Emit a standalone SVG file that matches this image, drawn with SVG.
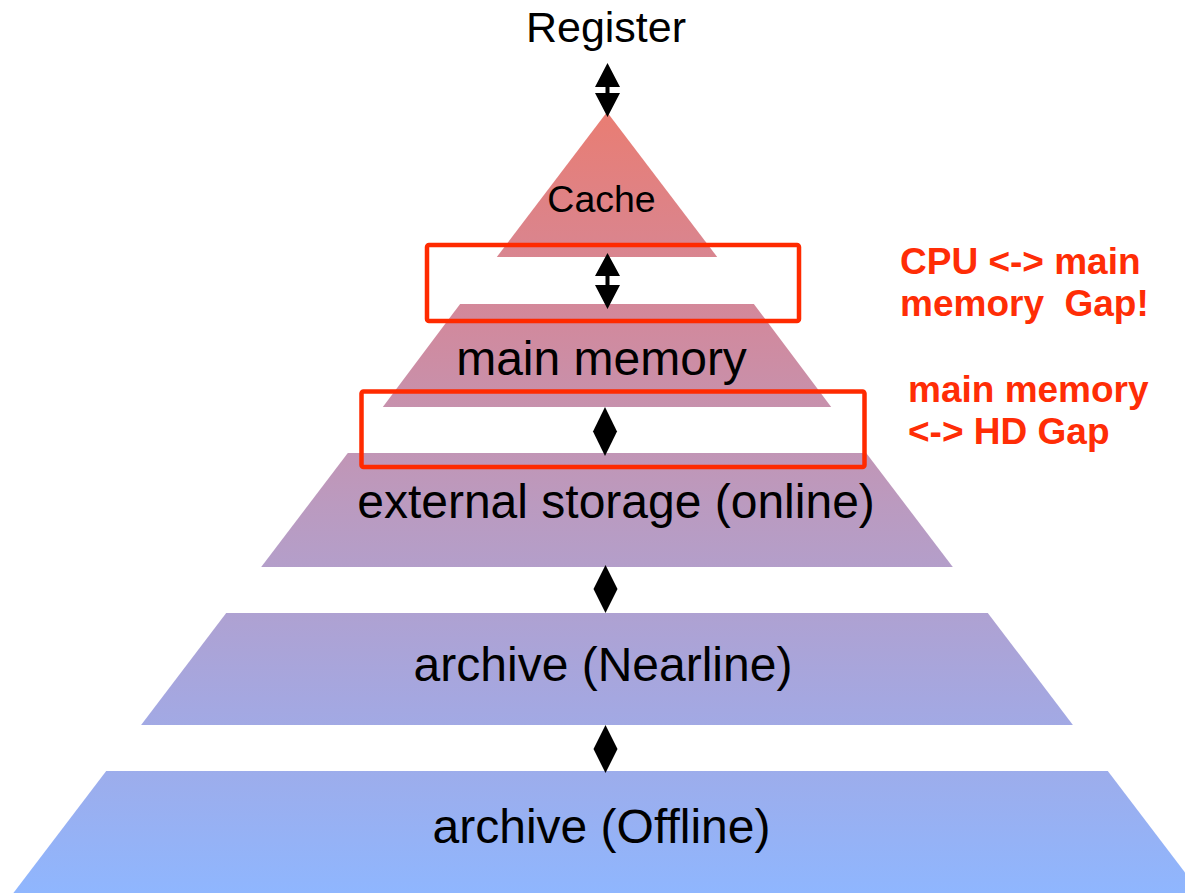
<svg xmlns="http://www.w3.org/2000/svg" width="1185" height="893" viewBox="0 0 1185 893">
  <style>
    .band { fill: url(#pyr); }
    .lbl { font-family: "Liberation Sans", Arial, sans-serif; fill: #000; text-anchor: middle; }
    .note { font-family: "Liberation Sans", Arial, sans-serif; font-weight: bold; fill: #ff2d06; font-size: 37px; }
    .gap { fill: none; stroke: #ff2a00; stroke-width: 4.5; }
    .arr { fill: #000; }
  </style>
  <defs>
    <linearGradient id="pyr" gradientUnits="userSpaceOnUse" x1="0" y1="112" x2="0" y2="893">
      <stop offset="0" stop-color="#e97d73"/>
      <stop offset="0.25" stop-color="#d3889a"/>
      <stop offset="0.5" stop-color="#bb9abf"/>
      <stop offset="0.75" stop-color="#a5a7e0"/>
      <stop offset="1" stop-color="#8fb6fe"/>
    </linearGradient>
  </defs>
  <rect width="1185" height="893" fill="#ffffff"/>

  <g id="register">
    <text class="lbl" x="606" y="42" font-size="43">Register</text>
  </g>

  <g id="cache">
    <polygon class="band" points="607,112 717.2,257 496.8,257"/>
    <text class="lbl" x="601.5" y="212" font-size="37.5">Cache</text>
  </g>

  <g id="main-memory">
    <polygon class="band" points="460.1,304 753.9,304 831.2,407 382.8,407"/>
    <text class="lbl" x="601.5" y="375" font-size="48">main memory</text>
  </g>

  <g id="external-storage">
    <polygon class="band" points="347.8,453 866.2,453 952.8,567 261.2,567"/>
    <text class="lbl" x="616" y="518" font-size="48">external storage (online)</text>
  </g>

  <g id="archive-nearline">
    <polygon class="band" points="226.2,613 987.8,613 1072.9,725 141.1,725"/>
    <text class="lbl" x="603" y="681" font-size="48">archive (Nearline)</text>
  </g>

  <g id="archive-offline">
    <polygon class="band" points="106.2,771 1107.8,771 1200.6,893 13.4,893"/>
    <text class="lbl" x="601.5" y="843" font-size="48">archive (Offline)</text>
  </g>

  <g id="gaps">
    <rect class="gap" x="427" y="245" width="372" height="76" rx="2"/>
    <rect class="gap" x="361.5" y="391.5" width="503" height="75.5" rx="2"/>
    <text class="note" x="900" y="274">CPU &lt;-&gt; main</text>
    <text class="note" x="900" y="316" xml:space="preserve">memory  Gap!</text>
    <text class="note" x="908" y="402">main memory</text>
    <text class="note" x="908" y="444">&lt;-&gt; HD Gap</text>
  </g>

  <g id="connectors">
    <path class="arr" d="M607.5,63 L620,87 L609.5,87 L609.5,93 L620,93 L607.5,117 L595,93 L605.5,93 L605.5,87 L595,87 Z"/>
    <path class="arr" d="M607.5,253 L620,276 L609.5,276 L609.5,285 L620,285 L607.5,309 L595,285 L605.5,285 L605.5,276 L595,276 Z"/>
    <path class="arr" d="M605,407 L617,431.5 L605,456 L593,431.5 Z"/>
    <path class="arr" d="M605.5,565 L617.5,589 L605.5,613 L593.5,589 Z"/>
    <path class="arr" d="M605.5,725 L617.5,749 L605.5,773 L593.5,749 Z"/>
  </g>
</svg>
